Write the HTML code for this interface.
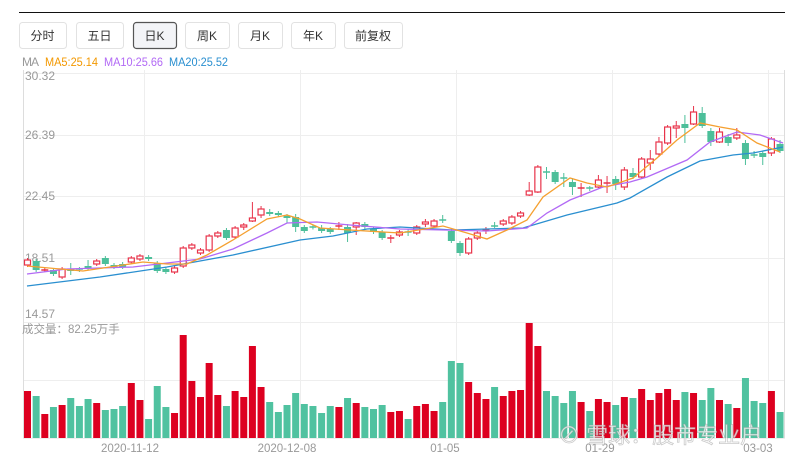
<!DOCTYPE html>
<html><head><meta charset="utf-8"><style>
body{margin:0;background:#fff;width:800px;height:459px;overflow:hidden;font-family:"Liberation Sans","Noto Sans CJK SC",sans-serif;}
svg{position:absolute;left:0;top:0}
</style></head><body>
<svg id="s" width="800" height="459" xmlns="http://www.w3.org/2000/svg" font-family="Liberation Sans, Noto Sans CJK SC, sans-serif"></svg>
<script>
const s=document.getElementById('s');let h='';
h+='<line x1="19" y1="12.5" x2="785" y2="12.5" stroke="#111" stroke-width="1"/>';
const btn=[[19,66,'分时'],[76,123,'五日'],[133,176,'日K'],[185,229,'周K'],[238,282,'月K'],[291,335,'年K'],[344,402,'前复权']];
btn.forEach(b=>{const act=b[2]=='日K';h+=`<rect x="${b[0]+.5}" y="22.5" width="${b[1]-b[0]}" height="26" rx="3" fill="${act?'#f3f4f7':'#fff'}" stroke="${act?'#555':'#e2e2e2'}" stroke-width="${act?1.2:1}"/><text x="${(b[0]+b[1])/2}" y="40" font-size="12" text-anchor="middle" fill="#333">${b[2]}</text>`;});
h+='<text x="22" y="66" font-size="12" fill="#999" textLength="17">MA</text><text x="45" y="66" font-size="12" fill="#f39800" textLength="53" lengthAdjust="spacingAndGlyphs">MA5:25.14</text><text x="104" y="66" font-size="12" fill="#b26af5" textLength="59" lengthAdjust="spacingAndGlyphs">MA10:25.66</text><text x="169" y="66" font-size="12" fill="#2a8fd0" textLength="59" lengthAdjust="spacingAndGlyphs">MA20:25.52</text>';
[73,135,196,258,322,380].forEach(y=>h+=`<line x1="23" y1="${y+.5}" x2="785" y2="${y+.5}" stroke="#eee"/>`);
h+='<line x1="23" y1="438.5" x2="785" y2="438.5" stroke="#eee"/>';
[144,300,456,612,768].forEach(x=>h+=`<line x1="${x+.5}" y1="70" x2="${x+.5}" y2="438" stroke="#eee"/>`);
h+='<line x1="23.5" y1="70" x2="23.5" y2="438" stroke="#ddd"/><line x1="784.5" y1="70" x2="784.5" y2="438" stroke="#ddd"/>';
[[80,'30.32'],[139,'26.39'],[200,'22.45'],[262,'18.51'],[318,'14.57']].forEach(l=>h+=`<text x="25" y="${l[0]}" font-size="12" fill="#999">${l[1]}</text>`);
h+='<text x="22" y="333" font-size="11.5" fill="#999">成交量：82.25万手</text>';
const c=[[1,260,265],[0,261,270],[1,270,270],[0,270,274],[1,269,277],[0,269,271,263,275],[0,269,270],[0,266,268,260,270],[1,261,264],[0,258,264],[0,265,267],[0,264,267],[1,258,262],[1,256,259],[0,257,259],[0,263,271],[0,269,272],[1,268,272],[1,248,266],[1,245,248],[1,250,253],[1,236,250],[1,233,236],[0,230,238],[1,228,237],[1,225,227,223,230],[1,218,221,202,222],[1,209,215,206,218],[0,212,214,209,216],[0,213,215],[0,216,218,214,223],[0,217,227,214,232],[0,227,231],[0,227,227.5],[0,228,231,225,233],[0,229,232],[1,226,227,222,230],[0,227,233,224,242],[1,223,227,222,235],[0,224,227],[0,229,232],[0,232,238],[1,238,238.5,235,243],[1,232,235],[0,232,232.5,229,236],[1,227,233],[1,222,224,219,227],[1,221,226],[0,220,221,215,223],[0,231,241],[0,243,253,241,256],[1,239,253],[1,233,238],[1,230,230.5,227,234],[0,226,226.5,222,228],[1,221,224],[1,217,223],[1,213,216],[1,191,195,182,196],[1,167,192,165,193],[0,172,172.5,167,179],[0,172,182],[0,178,178.5,173,187],[0,182,187,178,195],[1,188,188.5,183,197],[0,188,189],[1,180,187,175,188],[1,183,183.5,176,193],[0,179,184,176,190],[1,170,187,167,190],[0,173,177,168,179],[1,159,177],[1,159,163,150,170],[1,142,154,137,157],[1,127,143,125,145],[1,126,128,121,138],[0,124,128,115,143],[1,112,124,106,125],[0,113,126,107,128],[0,131,142,128,146],[1,132,142,128,143],[0,137,143,134,146],[1,135,138,128,140],[0,143,159,140,165],[0,155,156,151,158],[0,153,157,151,165],[1,139,153,137,156],[0,144,151,140,153]];
const vol=[391,396,414,407,405,398,406,399,403,410,409,406,383,400,419,386,407,413,335,381,397,363,395,406,391,397,346,387,402,412,405,393,404,406,413,406,407,398,403,407,409,405,412,411,419,406,404,411,402,361,363,382,393,399,387,396,391,390,323,346,391,396,403,391,402,411,399,402,405,397,398,389,400,393,389,400,392,393,400,388,400,404,408,378,401,403,391,412];
const R='#e8334a',G='#4cbf9a',VR='#dd0020',VG='#50c2a0';
c.forEach((d,i)=>{const x=27.5+i*8.65;let [u,t,b,wt,wb]=d;wt=wt??t-2;wb=wb??b+2;const col=u?R:G;
h+=`<line x1="${x}" y1="${wt}" x2="${x}" y2="${wb}" stroke="${col}" stroke-width="1"/>`;
if(b-t<1.5){h+=`<line x1="${x-3.5}" y1="${t}" x2="${x+3.5}" y2="${t}" stroke="${col}" stroke-width="1.5"/>`;}
else if(u)h+=`<rect x="${x-3}" y="${t}" width="6" height="${b-t}" fill="#fff" stroke="${col}" stroke-width="1.2"/>`;
else h+=`<rect x="${x-3.5}" y="${t}" width="7" height="${b-t}" fill="${col}"/>`;
const vc=(u?VR:VG);h+=`<rect x="${x-3.5}" y="${vol[i]}" width="7" height="${438-vol[i]}" fill="${vc}"/>`;});
const pl=(p,c)=>h+=`<polyline points="${p}" fill="none" stroke="${c}" stroke-width="1.3"/>`;
pl('27,286 100,277 167,267 233,255 300,240 333,236 367,229 400,227 453,230 523,228 567,215 617,203 630,198 667,177 700,161 733,155 753,153 783,147','#2a8fd0');
pl('27,274 67,269 133,267 167,263 200,259 233,249 267,233 287,223 317,222 350,225 400,229 487,231 527,228 547,213 570,200 603,187 630,182 647,177 687,160 710,142 737,132 760,135 783,143','#b26af5');
pl('27,266 60,269 83,271 110,267 143,262 167,264 187,264 207,255 233,240 267,219 287,215 300,219 320,228 350,230 400,233 443,226 467,233 487,239 507,230 527,220 543,197 570,178 587,183 607,187 633,178 657,158 677,140 700,123 720,127 737,130 757,143 780,152','#f5a030');
[[130,'2020-11-12'],[287,'2020-12-08'],[445,'01-05'],[600,'01-29'],[758,'03-03']].forEach(l=>h+=`<text x="${l[0]}" y="452" font-size="11.5" text-anchor="middle" fill="#999">${l[1]}</text>`);
h+='<text x="558" y="443" font-size="22" fill="rgba(255,255,255,0.75)" stroke="rgba(150,150,150,0.5)" stroke-width="0.8">⊘ 雪球：股市专业户</text>';
s.innerHTML=h;
</script>
</body></html>
